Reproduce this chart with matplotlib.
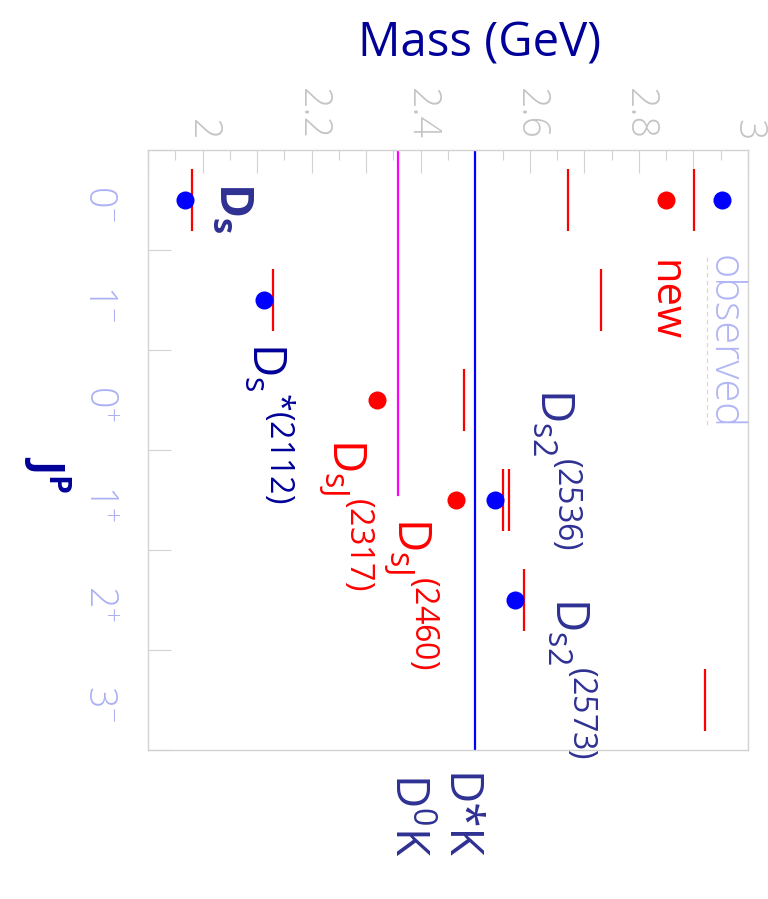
import matplotlib
matplotlib.use("Agg")
import matplotlib.pyplot as plt
from matplotlib.ticker import MultipleLocator, FuncFormatter

plt.rcParams["font.family"] = ["Open Sans", "DejaVu Sans"]
plt.rcParams["mathtext.fontset"] = "custom"
plt.rcParams["mathtext.rm"] = "Open Sans"
plt.rcParams["mathtext.it"] = "Open Sans:italic"
plt.rcParams["mathtext.bf"] = "Open Sans:bold"

# ---- data -------------------------------------------------------------
jp_labels = [r"$\mathregular{0^{-}}$", r"$\mathregular{1^{-}}$", r"$\mathregular{0^{+}}$",
             r"$\mathregular{1^{+}}$", r"$\mathregular{2^{+}}$", r"$\mathregular{3^{-}}$"]

mass_ticks = [2.0, 2.2, 2.4, 2.6, 2.8, 3.0]
mass_tick_labels = ["2", "2.2", "2.4", "2.6", "2.8", "3"]

# predicted levels (red bars): J^P row and mass in GeV
pred_rows = [0, 0, 0, 1, 1, 2, 3, 3, 4, 5]
pred_mass = [1.980, 2.670, 2.901, 2.129, 2.731, 2.480, 2.550, 2.562, 2.590, 2.922]

# established states (blue dots)
obs_rows = [0, 1, 3, 4]
obs_mass = [1.968, 2.112, 2.536, 2.573]

# newly observed states (red dots)
new_rows = [2, 3]
new_mass = [2.320, 2.465]

# two-body thresholds
th_d0k = 2.358
th_dstk = 2.500

# ---- figure -----------------------------------------------------------
fig = plt.figure(figsize=(7.68, 8.99), dpi=100)
ax = fig.add_axes([148 / 768, 1 - 750 / 899, 600 / 768, 600 / 899])
ax.set_xlim(1.9, 3.0)
ax.set_ylim(5.5, -0.5)

grey = "#d2d2d2"
for s in ax.spines.values():
    s.set_color(grey)
    s.set_linewidth(1.0)

# mass axis along the top
ax.xaxis.tick_top()
ax.xaxis.set_major_locator(MultipleLocator(0.1))
ax.xaxis.set_minor_locator(MultipleLocator(0.05))
lab = {round(v, 2): t for v, t in zip(mass_ticks, mass_tick_labels)}
ax.xaxis.set_major_formatter(FuncFormatter(lambda v, _: lab.get(round(v, 2), "")))
ax.tick_params(axis="x", which="major", direction="in", length=16.5, width=0.8,
               color=grey, pad=7, labelsize=27, labelcolor="#c4c4c4", labelrotation=-90)
ax.tick_params(axis="x", which="minor", direction="in", length=7, width=0.8, color=grey)
for t in ax.get_xticklabels():
    t.set_fontweight("light")

# J^P rows
ax.set_yticks(range(len(jp_labels)), jp_labels)
ax.yaxis.set_minor_locator(MultipleLocator(1.0, offset=0.5))
ax.tick_params(axis="y", which="major", length=0, pad=21, labelsize=27,
               labelcolor="#acb1f4", labelrotation=-90)
ax.tick_params(axis="y", which="minor", direction="in", length=16.5, width=0.8, color=grey)
for t in ax.get_yticklabels():
    t.set_fontweight("light")

# thresholds
ax.axvline(th_dstk, color="#0000ff", lw=1.6, zorder=2)
ax.axvline(th_d0k, ymin=(5.5 - 2.95) / 6.0, ymax=1.0, color="#ff00ff", lw=1.6, zorder=2)

# predicted levels
half = 0.31
for r, m in zip(pred_rows, pred_mass):
    ax.plot([m, m], [r - half, r + half], color="#ff0000", lw=1.6, solid_capstyle="butt", zorder=3)

# measured states
ax.plot(obs_mass, obs_rows, "o", color="#0000ff", ms=13, mec="none", zorder=4)
ax.plot(new_mass, new_rows, "o", color="#ff0000", ms=13, mec="none", zorder=4)

# key
ax.plot([2.953], [0], "o", color="#0000ff", ms=13, mec="none", zorder=4)
ax.plot([2.850], [0], "o", color="#ff0000", ms=13, mec="none", zorder=4)
ax.plot([2.925, 2.925], [0.57, 2.25], ls=(0, (4, 3)), color="#ffc4c4", lw=0.8, zorder=1)
ax.text(2.936, 0.55, "observed", rotation=-90, rotation_mode="anchor", ha="left",
        va="baseline", fontsize=30, color="#b2b6f4", fontweight="light")
ax.text(2.826, 0.60, "new", rotation=-90, rotation_mode="anchor", ha="left",
        va="baseline", fontsize=30, color="#ff0000")

# state names
navy = "#000099"
slate = "#2e3192"
names = [
    (r"$\mathregular{D_s}$", 2.032, -0.18, slate, "bold"),
    (r"$\mathregular{D_s{}^{*(2112)}}$", 2.091, 1.42, navy, "normal"),
    (r"$\mathregular{D_{sJ}{}^{(2317)}}$", 2.239, 2.38, "#ff0000", "normal"),
    (r"$\mathregular{D_{sJ}{}^{(2460)}}$", 2.357, 3.17, "#ff0000", "normal"),
    (r"$\mathregular{D_{s2}{}^{(2536)}}$", 2.619, 1.88, slate, "normal"),
    (r"$\mathregular{D_{s2}{}^{(2573)}}$", 2.646, 3.97, slate, "normal"),
    ("D*K", 2.445, 5.73, slate, "normal"),
    (r"$\mathregular{D{}^{0}K}$", 2.353, 5.73, slate, "normal"),
]
for txt, x, y, c, w in names:
    ax.text(x, y, txt, rotation=-90, rotation_mode="anchor", ha="left", va="baseline",
            fontsize=33, color=c, fontweight=w, clip_on=False, zorder=5)

# axis titles
ax.text(0.553, 1.155, "Mass (GeV)", transform=ax.transAxes, ha="center", va="baseline",
        fontsize=34, color=navy)
ax.text(-0.213, 0.458, r"$\mathregular{J^P}$", transform=ax.transAxes, rotation=-90,
        rotation_mode="anchor", ha="center", va="bottom", fontsize=31, color=navy,
        fontweight="bold")

fig.savefig("out.png", dpi=100, facecolor="white")
